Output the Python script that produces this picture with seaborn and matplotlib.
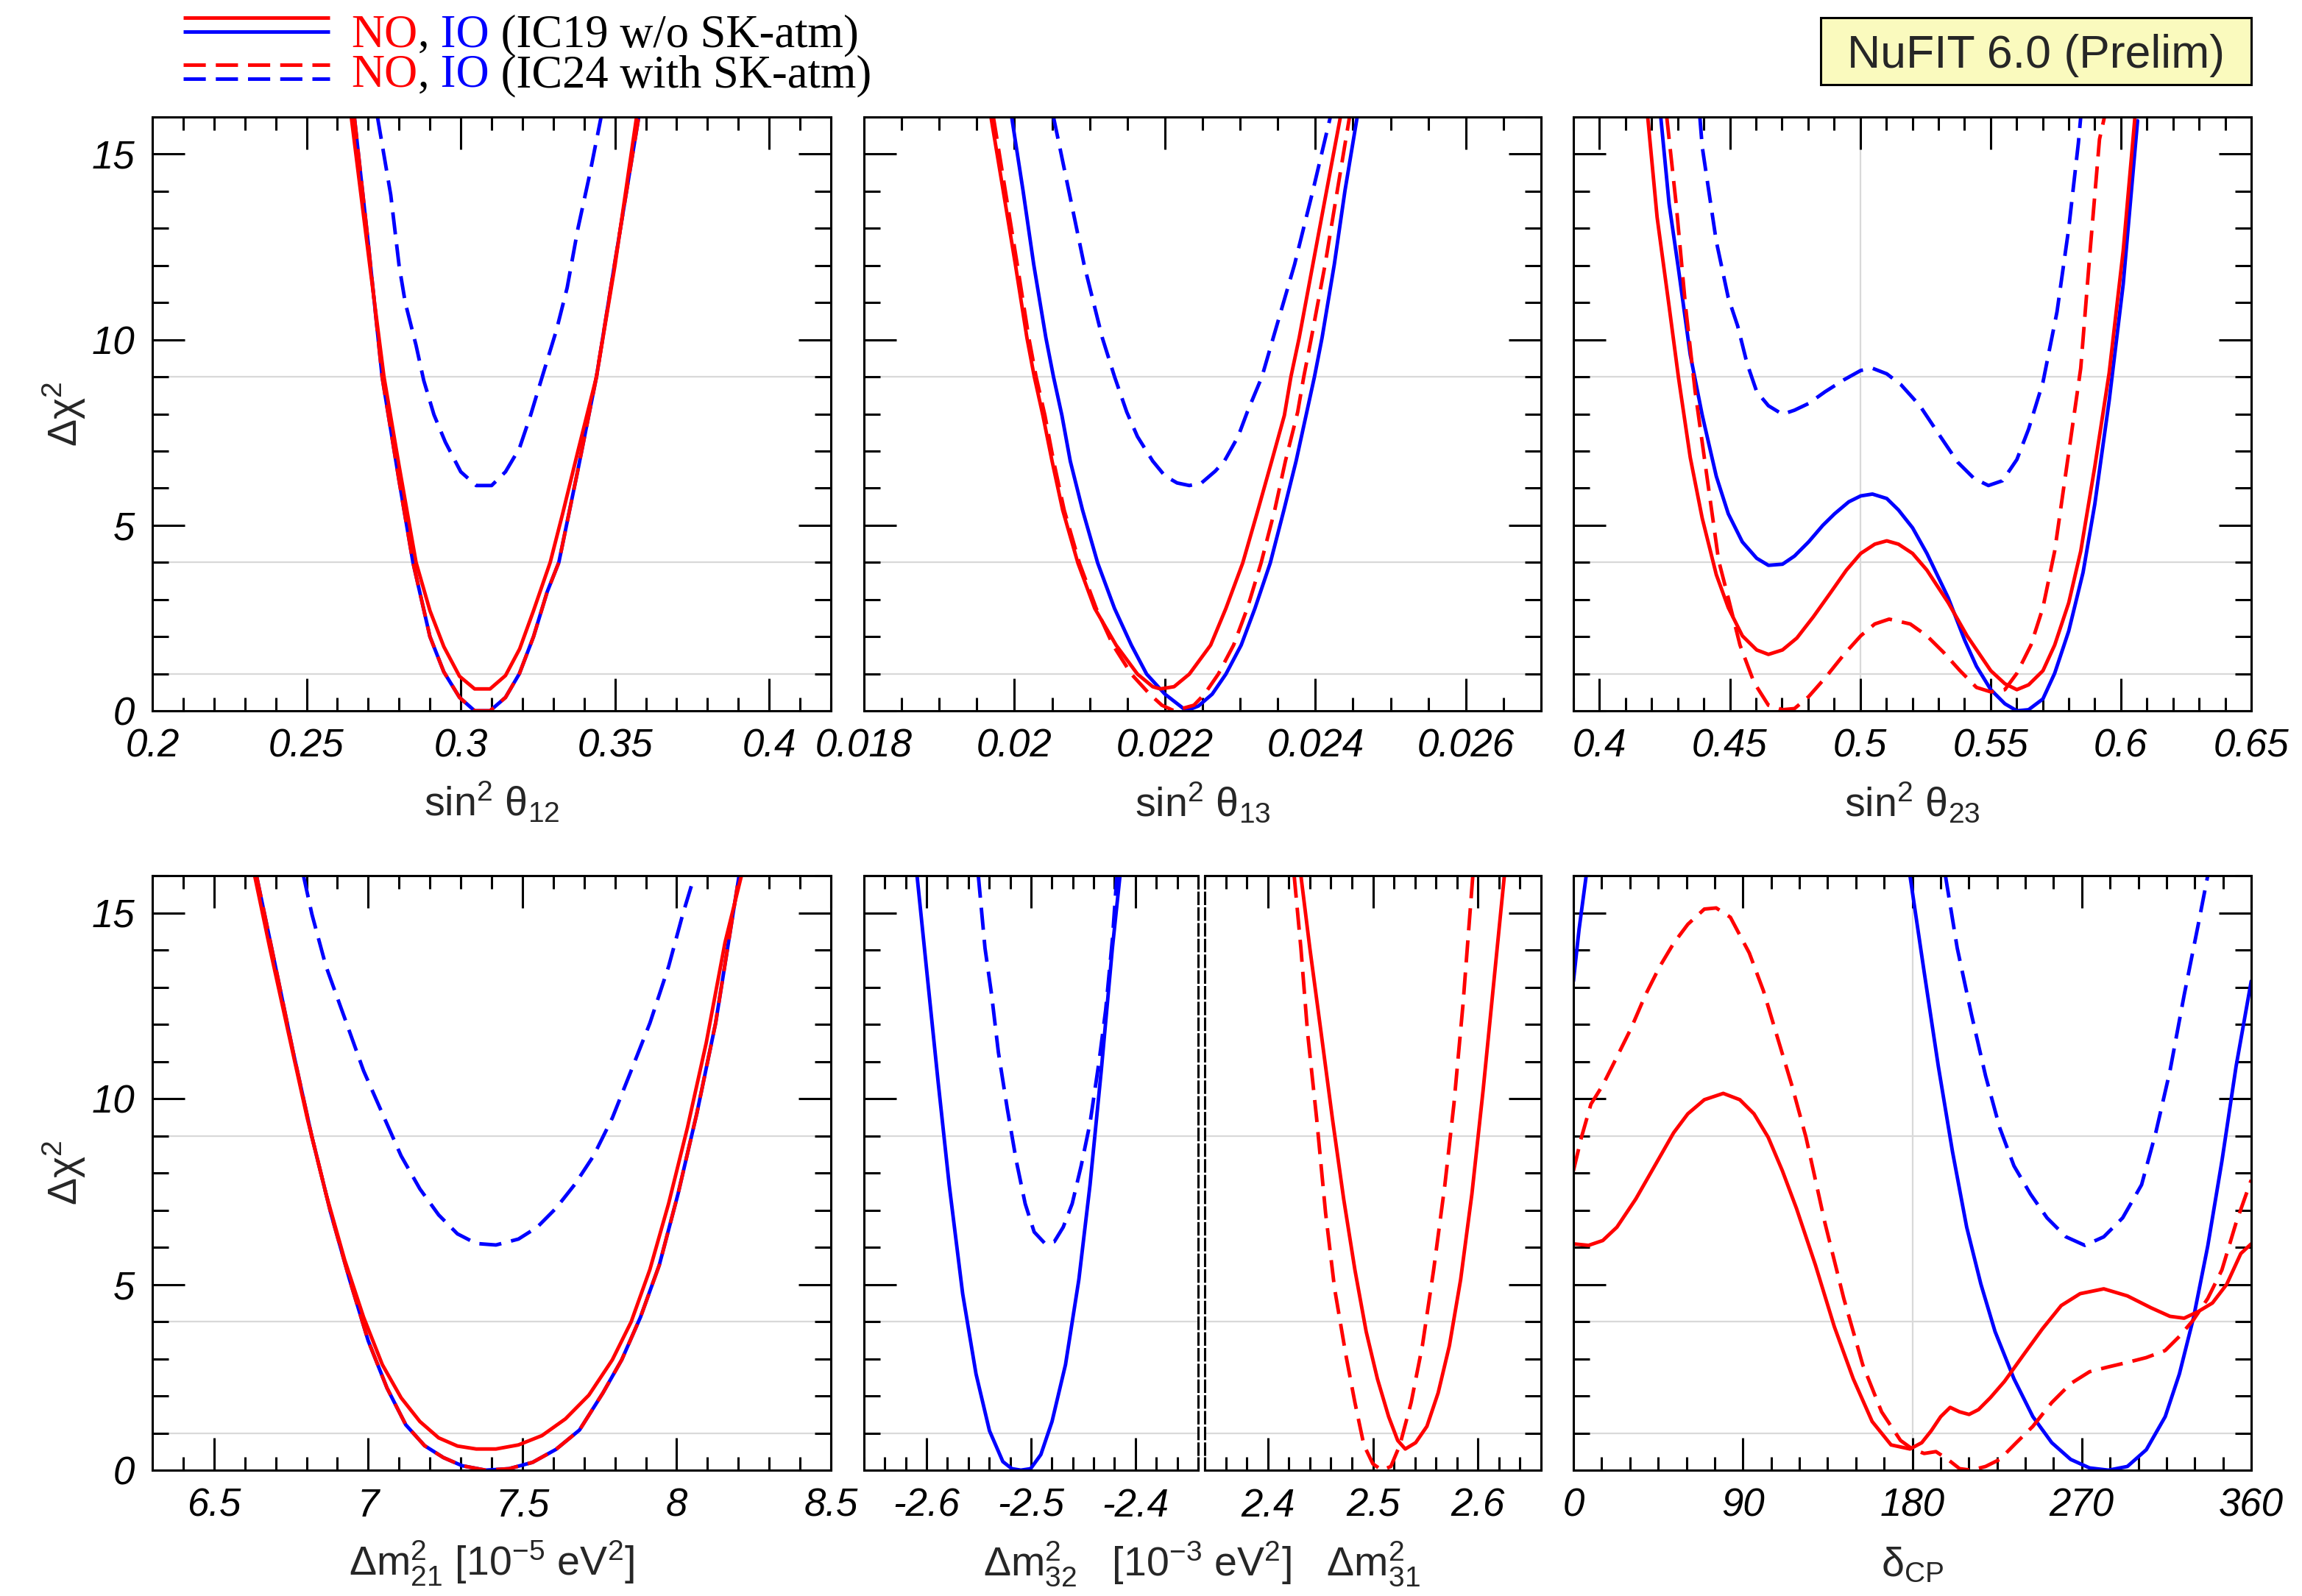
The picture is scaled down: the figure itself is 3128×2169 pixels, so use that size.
import matplotlib
matplotlib.use("Agg")
import matplotlib.pyplot as plt
from matplotlib.patches import Rectangle
from matplotlib.ticker import MultipleLocator
import pandas as pd
import seaborn as sns

# ---- Delta chi^2 profiles read off the NuFIT 6.0 (prelim) figure ----
# sin^2 theta_12
s12_no19_x = [0.2645, 0.2705, 0.2751, 0.2800, 0.2855, 0.2900, 0.2945, 0.2996, 0.3045, 0.3095,
              0.3145, 0.3191, 0.3236, 0.3290, 0.3330, 0.3380, 0.3440, 0.3500, 0.3570]
s12_no19_y = [16, 12, 9, 6.6, 4.0, 2.7, 1.73, 0.93, 0.59, 0.59, 0.95, 1.67, 2.7, 4.0, 5.3, 7.0, 9.0, 12.0, 16]
s12_io19_x = [0.2655, 0.2700, 0.2745, 0.2800, 0.2845, 0.2900, 0.2945, 0.2996, 0.3045, 0.3095,
              0.3145, 0.3190, 0.3236, 0.3280, 0.3318, 0.3380, 0.3440, 0.3500, 0.3577]
s12_io19_y = [16, 12.6, 9.0, 6.2, 4.0, 2.0, 1.05, 0.36, 0.0, 0.0, 0.36, 1.0, 2.0, 3.2, 4.0, 6.5, 9.0, 12.1, 16]
s12_no24_x = s12_io19_x
s12_no24_y = s12_io19_y
s12_io24_x = [0.2730, 0.2773, 0.2800, 0.2820, 0.2855, 0.2880, 0.2913, 0.2950, 0.3000, 0.3050,
              0.3100, 0.3145, 0.3190, 0.3227, 0.3264, 0.3310, 0.3345, 0.3380, 0.3418, 0.3455]
s12_io24_y = [16, 13.9, 12.0, 11.0, 9.85, 8.9, 7.98, 7.24, 6.44, 6.07, 6.07, 6.44, 7.07, 7.98, 9.0,
              10.25, 11.4, 13.0, 14.45, 16]

# sin^2 theta_13
s13_no19_x = [0.019688, 0.01985, 0.020012, 0.020166, 0.020264, 0.020378, 0.0205, 0.020641, 0.020844,
              0.021067, 0.021351, 0.021635, 0.021838, 0.021939, 0.022122, 0.022325, 0.022608, 0.022811,
              0.023034, 0.023237, 0.02342, 0.023588, 0.023675, 0.023785, 0.023967, 0.02415, 0.024333]
s13_no19_y = [16, 14.02, 12.03, 10.05, 9.0, 7.96, 6.73, 5.41, 3.98, 2.76, 1.77, 0.99, 0.65, 0.59, 0.65,
              0.99, 1.77, 2.76, 3.98, 5.41, 6.73, 7.96, 9.0, 10.05, 12.03, 14.02, 16]
s13_no24_x = [0.01972, 0.019878, 0.020037, 0.020191, 0.020288, 0.020405, 0.02052, 0.020661, 0.020864,
              0.021087, 0.02131, 0.021554, 0.021797, 0.02196, 0.022122, 0.022385, 0.022527, 0.02271,
              0.022913, 0.023095, 0.023278, 0.02346, 0.023602, 0.023765, 0.023846, 0.023947, 0.02413,
              0.024292, 0.024454]
s13_no24_y = [16, 14.02, 12.03, 10.05, 9.0, 7.96, 6.73, 5.41, 3.98, 2.76, 1.77, 0.99, 0.45, 0.15, 0.0,
              0.15, 0.45, 0.99, 1.77, 2.76, 3.98, 5.41, 6.73, 8.05, 9.0, 10.05, 12.03, 14.02, 16]
s13_io19_x = [0.019963, 0.020114, 0.020256, 0.020418, 0.020519, 0.020631, 0.020742, 0.020905, 0.021107,
              0.02133, 0.021554, 0.021757, 0.022, 0.022203, 0.022284, 0.022446, 0.022629, 0.022811,
              0.023014, 0.023197, 0.0234, 0.023582, 0.023744, 0.023886, 0.023988, 0.024089, 0.024252,
              0.024394, 0.024556]
s13_io19_y = [16, 14.02, 12.03, 10.05, 9.0, 7.96, 6.73, 5.41, 3.98, 2.76, 1.77, 0.99, 0.45, 0.13, 0.0,
              0.13, 0.45, 0.99, 1.77, 2.76, 3.98, 5.41, 6.73, 8.05, 9.0, 10.05, 12.03, 14.02, 16]
s13_io24_x = [0.020519, 0.020722, 0.020925, 0.021168, 0.021331, 0.021493, 0.021635, 0.021838, 0.022,
              0.022162, 0.022325, 0.022487, 0.02267, 0.022791, 0.022973, 0.023095, 0.02329, 0.02344,
              0.023724, 0.023968, 0.024199]
s13_io24_y = [16, 14.02, 12.03, 10.05, 9.0, 8.05, 7.39, 6.73, 6.33, 6.14, 6.07, 6.14, 6.46, 6.73, 7.39,
              8.05, 9.0, 10.05, 12.03, 14.02, 16]

# sin^2 theta_23
s23_no19_x = [0.4185, 0.4221, 0.4267, 0.4303, 0.4348, 0.4394, 0.4448, 0.4494, 0.4548, 0.4603, 0.4648, 0.4702,
              0.4757, 0.4820, 0.4884, 0.4947, 0.5002, 0.5056, 0.5102, 0.5147, 0.5201, 0.5256, 0.5338, 0.5410,
              0.5501, 0.5555, 0.5601, 0.5646, 0.5701, 0.5746, 0.5800, 0.5846, 0.5900, 0.5955, 0.6009, 0.6054]
s23_no19_y = [16, 13.3, 10.9, 8.98, 6.83, 5.19, 3.67, 2.78, 2.02, 1.64, 1.52, 1.64, 1.96, 2.53, 3.16, 3.79,
              4.24, 4.49, 4.58, 4.49, 4.24, 3.79, 2.91, 2.02, 1.08, 0.73, 0.57, 0.70, 1.08, 1.77, 2.91, 4.30,
              6.58, 9.10, 12.4, 16]
s23_io19_x = [0.4235, 0.4267, 0.4303, 0.4348, 0.4394, 0.4448, 0.4494, 0.4548, 0.4603, 0.4648, 0.4702, 0.4748,
              0.4802, 0.4857, 0.4902, 0.4956, 0.5002, 0.5047, 0.5102, 0.5147, 0.5201, 0.5256, 0.5338, 0.5401,
              0.5446, 0.5501, 0.5555, 0.5601, 0.5646, 0.5701, 0.5746, 0.5800, 0.5855, 0.5900, 0.5955, 0.6009,
              0.6064]
s23_io19_y = [16, 13.66, 11.9, 9.6, 7.97, 6.32, 5.31, 4.55, 4.11, 3.92, 3.95, 4.17, 4.55, 5.0, 5.31, 5.63,
              5.79, 5.84, 5.72, 5.41, 4.93, 4.24, 3.04, 1.90, 1.20, 0.57, 0.19, 0.0, 0.03, 0.32, 1.01, 2.15,
              3.73, 5.57, 8.35, 11.5, 15.9]
s23_no24_x = [0.4258, 0.4294, 0.4330, 0.4367, 0.4412, 0.4457, 0.4494, 0.4539, 0.4593, 0.4648, 0.4702, 0.4748,
              0.4802, 0.4866, 0.4938, 0.5002, 0.5056, 0.5111, 0.5192, 0.5256, 0.5319, 0.5383, 0.5446, 0.5501,
              0.5555, 0.5601, 0.5655, 0.5701, 0.5746, 0.5800, 0.5846, 0.5882, 0.5918, 0.5937]
s23_no24_y = [16, 13.66, 10.9, 8.6, 6.32, 4.05, 3.04, 1.77, 0.76, 0.15, 0.03, 0.06, 0.38, 0.89, 1.52, 2.02,
              2.34, 2.47, 2.34, 2.02, 1.58, 1.08, 0.63, 0.51, 0.57, 1.01, 1.77, 2.78, 4.30, 6.96, 9.23, 12.4,
              15.4, 16]
s23_io24_x = [0.4385, 0.4394, 0.4448, 0.4494, 0.4530, 0.4566, 0.4603, 0.4648, 0.4702, 0.4748, 0.4802, 0.4866,
              0.4938, 0.5002, 0.5047, 0.5102, 0.5156, 0.5229, 0.5301, 0.5374, 0.5437, 0.5492, 0.5546, 0.5601,
              0.5646, 0.5701, 0.5755, 0.5800, 0.5837, 0.5846]
s23_io24_y = [16, 15.2, 12.65, 11.13, 10.37, 9.36, 8.6, 8.22, 7.99, 8.1, 8.28, 8.6, 8.92, 9.17, 9.23, 9.08,
              8.79, 8.22, 7.46, 6.70, 6.26, 6.07, 6.2, 6.77, 7.59, 8.85, 10.75, 13.0, 15.3, 16]

# Delta m^2_21 [1e-5 eV^2]
dm21_no19_x = [6.6317, 6.6804, 6.7412, 6.8021, 6.8630, 6.9239, 6.9848, 7.0457, 7.1065, 7.1674, 7.2283, 7.2892,
               7.3501, 7.4140, 7.4871, 7.5632, 7.6393, 7.7154, 7.7915, 7.8524, 7.9132, 7.9741, 8.0350, 8.0959,
               8.1568, 8.2100]
dm21_no19_y = [16, 14.07, 11.77, 9.48, 7.44, 5.65, 4.12, 2.84, 1.95, 1.31, 0.87, 0.65, 0.57, 0.57, 0.68, 0.93,
               1.38, 2.02, 2.97, 3.99, 5.40, 7.18, 9.22, 11.5, 14.2, 16]
dm21_io19_x = [6.6377, 6.6956, 6.7565, 6.8174, 6.8782, 6.9391, 7.0000, 7.0609, 7.1218, 7.1826, 7.2435, 7.3044,
               7.3805, 7.4566, 7.5327, 7.6088, 7.6849, 7.7610, 7.8219, 7.8828, 7.9437, 8.0046, 8.0654, 8.1263,
               8.1948, 8.2024]
dm21_io19_y = [16, 13.7, 11.26, 8.97, 6.93, 5.14, 3.48, 2.21, 1.22, 0.66, 0.34, 0.12, 0.0, 0.04, 0.21, 0.56,
               1.08, 2.08, 2.97, 4.12, 5.52, 7.44, 9.6, 12.03, 15.6, 16]
dm21_no24_x = dm21_io19_x
dm21_no24_y = dm21_io19_y
dm21_io24_x = [6.7900, 6.8174, 6.8630, 6.9239, 6.9848, 7.0457, 7.1065, 7.1674, 7.2283, 7.2892, 7.3501, 7.4140,
               7.4871, 7.5480, 7.6088, 7.6697, 7.7306, 7.7915, 7.8524, 7.9132, 7.9741, 8.0198, 8.0578]
dm21_io24_y = [16, 14.96, 13.56, 12.16, 10.75, 9.6, 8.46, 7.57, 6.87, 6.36, 6.10, 6.06, 6.22, 6.54, 7.05,
               7.69, 8.46, 9.48, 10.75, 12.03, 13.56, 14.96, 16]

# Delta m^2_32 (IO) and Delta m^2_31 (NO) [1e-3 eV^2]
dm32_io19_x = [-2.6092, -2.5998, -2.5891, -2.5784, -2.5655, -2.5527, -2.5398, -2.5270, -2.5184, -2.5098,
               -2.5004, -2.4906, -2.4799, -2.4670, -2.4542, -2.4435, -2.4328, -2.4221, -2.4148]
dm32_io19_y = [16, 13.41, 10.48, 7.68, 4.75, 2.59, 1.06, 0.23, 0.04, 0.0, 0.04, 0.42, 1.31, 2.84, 5.13, 7.68,
               10.74, 14.05, 16]
dm32_io24_x = [-2.5505, -2.5441, -2.5377, -2.5313, -2.5227, -2.5141, -2.5056, -2.4970, -2.4863, -2.4777,
               -2.4692, -2.4606, -2.4520, -2.4435, -2.4349, -2.4285, -2.4220, -2.4178]
dm32_io24_y = [16, 14.05, 12.78, 11.25, 9.72, 8.32, 7.17, 6.41, 6.09, 6.15, 6.54, 7.17, 8.19, 9.34, 10.99,
               12.39, 14.31, 16]
dm31_no19_x = [2.4315, 2.4400, 2.4508, 2.4615, 2.4722, 2.4829, 2.4936, 2.5043, 2.5150, 2.5236, 2.5308, 2.5407,
               2.5514, 2.5621, 2.5728, 2.5835, 2.5942, 2.6049, 2.6156, 2.6251]
dm31_no19_y = [16, 14.05, 11.76, 9.46, 7.3, 5.39, 3.73, 2.46, 1.44, 0.80, 0.57, 0.74, 1.18, 2.08, 3.35, 5.13,
               7.43, 10.23, 13.29, 16]
dm31_no24_x = [2.4251, 2.4315, 2.4379, 2.4465, 2.4550, 2.4636, 2.4743, 2.4829, 2.4914, 2.5000, 2.5086, 2.5171,
               2.5257, 2.5364, 2.5471, 2.5578, 2.5685, 2.5771, 2.5857, 2.5951]
dm31_no24_y = [16, 14.05, 11.76, 9.46, 6.92, 4.88, 3.1, 1.82, 0.68, 0.17, 0.0, 0.1, 0.68, 1.82, 3.35, 5.39,
               7.68, 9.85, 12.52, 16]

# delta_CP [deg]
dcp_no19_x = [0, 8.03, 15.57, 23.1, 33.14, 43.18, 53.22, 60.75, 69.54, 79.58, 88.37, 95.9, 103.43, 110.96,
              118.5, 128.54, 138.58, 148.62, 158.66, 168.7, 178.75, 185.02, 190.04, 195.07, 200.09, 205.11,
              210.13, 215.15, 221.43, 228.96, 239.0, 249.04, 259.08, 269.13, 281.68, 294.23, 306.78, 316.83,
              324.36, 331.89, 339.42, 346.95, 354.48, 360]
dcp_no19_y = [6.09, 6.05, 6.18, 6.54, 7.3, 8.19, 9.08, 9.59, 9.97, 10.14, 9.97, 9.59, 8.96, 8.06, 7.04, 5.52,
              3.86, 2.46, 1.31, 0.68, 0.57, 0.74, 1.06, 1.44, 1.69, 1.57, 1.50, 1.63, 1.95, 2.39, 3.1, 3.8, 4.43,
              4.75, 4.88, 4.69, 4.37, 4.14, 4.09, 4.27, 4.5, 5.0, 5.83, 6.09]
dcp_no24_x = [0, 4.27, 9.29, 15.57, 23.1, 30.63, 38.16, 45.69, 53.22, 60.75, 69.54, 75.82, 83.35, 93.39,
              100.92, 108.45, 115.99, 123.52, 133.56, 143.6, 153.64, 163.68, 173.73, 180.0, 186.28, 192.55,
              198.83, 205.11, 211.38, 218.92, 226.45, 235.23, 244.02, 254.06, 264.1, 274.15, 284.19, 294.23,
              304.27, 314.31, 321.85, 329.38, 336.91, 344.44, 351.97, 360]
dcp_no24_y = [8.06, 8.96, 9.85, 10.36, 11.12, 11.89, 12.78, 13.54, 14.18, 14.69, 15.1, 15.13, 14.88, 13.92,
              12.9, 11.63, 10.36, 8.96, 6.66, 4.62, 2.84, 1.57, 0.8, 0.57, 0.45, 0.5, 0.29, 0.04, 0.0, 0.1,
              0.29, 0.74, 1.18, 1.82, 2.33, 2.65, 2.78, 2.9, 3.03, 3.22, 3.6, 4.05, 4.62, 5.39, 6.66, 7.81]
dcp_io19a_x = [0, 3.01, 6.78]
dcp_io19a_y = [13.16, 14.56, 16]
dcp_io19b_x = [178.75, 186.28, 193.81, 201.34, 208.87, 216.4, 223.94, 233.98, 244.02, 254.06, 264.1, 274.15,
               284.19, 294.23, 304.27, 314.31, 321.85, 329.38, 336.91, 344.44, 351.97, 360]
dcp_io19b_y = [16, 13.41, 10.87, 8.57, 6.54, 5.01, 3.73, 2.46, 1.44, 0.74, 0.29, 0.06, 0.0, 0.1, 0.55, 1.44,
               2.59, 4.11, 6.03, 8.32, 10.87, 13.16]
dcp_io24_x = [197.58, 203.85, 211.38, 218.92, 226.45, 233.98, 242.77, 251.55, 261.59, 271.64, 281.68, 291.72,
              301.76, 309.29, 316.83, 324.36, 331.89, 336.91]
dcp_io24_y = [16, 14.05, 12.27, 10.61, 9.21, 8.19, 7.43, 6.79, 6.28, 6.05, 6.28, 6.79, 7.68, 9.08, 10.74,
              12.78, 14.69, 16]

# tick labels and reference levels
S12_TICKS = [0.2, 0.25, 0.3, 0.35, 0.4]
S13_TICKS = [0.018, 0.02, 0.022, 0.024, 0.026]
S23_TICKS = [0.4, 0.45, 0.5, 0.55, 0.6, 0.65]
DM21_TICKS = [6.5, 7, 7.5, 8, 8.5]
DM32_TICKS = [-2.6, -2.5, -2.4]
DM31_TICKS = [2.4, 2.5, 2.6]
DCP_TICKS = [0, 90, 180, 270, 360]
Y_TICKS = [0, 5, 10, 15]
SIGMA_LEVELS = [1, 4, 9]

RED, BLUE, GREY = "#ff0000", "#0000ff", "#d9d9d9"
PALETTE = {"NO": RED, "IO": BLUE}
DASHES = {"IC19": "", "IC24": (6.2, 2.8)}
LW = 3.5

sns.set_theme(style="ticks")
plt.rcParams.update({
    "font.family": ["Liberation Sans", "DejaVu Sans"],
    "mathtext.fontset": "custom",
    "mathtext.rm": "Liberation Sans",
    "mathtext.it": "Liberation Sans:italic",
    "mathtext.bf": "Liberation Sans:bold",
    "mathtext.sf": "Liberation Sans",
    "mathtext.default": "regular",
    "axes.edgecolor": "black",
    "xtick.color": "black",
    "ytick.color": "black",
})

W, H = 3128, 2169
fig = plt.figure(figsize=(W / 100, H / 100), dpi=100)


def px_rect(x0, y0, x1, y1):
    return [x0 / W, 1 - y1 / H, (x1 - x0) / W, (y1 - y0) / H]


def draw_curves(ax, curves):
    frames = [pd.DataFrame({"x": xs, "chi2": ys, "order": o, "run": r, "seg": name})
              for name, (xs, ys, o, r) in curves.items()]
    df = pd.concat(frames, ignore_index=True)
    sns.lineplot(data=df, x="x", y="chi2", hue="order", style="run", units="seg",
                 estimator=None, sort=False, hue_order=["IO", "NO"], style_order=["IC19", "IC24"],
                 palette=PALETTE, dashes=DASHES, linewidth=LW, legend=False, ax=ax)


def style_axes(ax, xlim, ticks, minor, ylabels=False, left=True, right=True):
    ax.set_xlim(*xlim)
    ax.set_ylim(0, 16)
    ax.set_xticks(ticks, [f"{t:g}" for t in ticks], fontstyle="italic")
    ax.xaxis.set_minor_locator(MultipleLocator(minor))
    ax.set_yticks(Y_TICKS, [f"{t:g}" for t in Y_TICKS], fontstyle="italic")
    ax.yaxis.set_minor_locator(MultipleLocator(1))
    ax.tick_params(which="both", direction="in", top=True, bottom=True, left=left, right=right,
                   width=2.2, pad=17, labelsize=38, labelleft=ylabels)
    ax.tick_params(which="major", length=32)
    ax.tick_params(axis="x", which="minor", length=13)
    ax.tick_params(axis="y", which="minor", length=16)
    for lev in SIGMA_LEVELS:
        ax.axhline(lev, color=GREY, lw=1.6, zorder=0)
    for s in ax.spines.values():
        s.set_linewidth(2.2)
    ax.set_ylabel("")
    if ylabels:
        ax.set_ylabel("Δχ$^2$", fontsize=40)
        ax.yaxis.set_label_coords(-0.095, 0.5)


def set_xlabel(ax, text, xpos=0.5):
    ax.set_xlabel(text, fontsize=40)
    ax.xaxis.set_label_coords(xpos, -0.178)
    ax.xaxis.label.set_va("baseline")


COLS = [(207, 1129), (1174, 2094), (2138, 3059)]
ROWS = [(159, 966), (1190, 1998)]

# top row
ax = fig.add_axes(px_rect(COLS[0][0], ROWS[0][0], COLS[0][1], ROWS[0][1]))
draw_curves(ax, {"a": (s12_io19_x, s12_io19_y, "IO", "IC19"), "b": (s12_io24_x, s12_io24_y, "IO", "IC24"),
                 "c": (s12_no19_x, s12_no19_y, "NO", "IC19"), "d": (s12_no24_x, s12_no24_y, "NO", "IC24")})
style_axes(ax, (0.2, 0.42), S12_TICKS, 0.01, ylabels=True)
set_xlabel(ax, "sin$^2$ θ$_{12}$")

ax = fig.add_axes(px_rect(COLS[1][0], ROWS[0][0], COLS[1][1], ROWS[0][1]))
draw_curves(ax, {"a": (s13_io19_x, s13_io19_y, "IO", "IC19"), "b": (s13_io24_x, s13_io24_y, "IO", "IC24"),
                 "c": (s13_no19_x, s13_no19_y, "NO", "IC19"), "d": (s13_no24_x, s13_no24_y, "NO", "IC24")})
style_axes(ax, (0.018, 0.027), S13_TICKS, 0.0005)
set_xlabel(ax, "sin$^2$ θ$_{13}$")

ax = fig.add_axes(px_rect(COLS[2][0], ROWS[0][0], COLS[2][1], ROWS[0][1]))
draw_curves(ax, {"a": (s23_io19_x, s23_io19_y, "IO", "IC19"), "b": (s23_io24_x, s23_io24_y, "IO", "IC24"),
                 "c": (s23_no19_x, s23_no19_y, "NO", "IC19"), "d": (s23_no24_x, s23_no24_y, "NO", "IC24")})
style_axes(ax, (0.39, 0.65), S23_TICKS, 0.01)
ax.axvline(0.5, color=GREY, lw=1.6, zorder=0)
set_xlabel(ax, "sin$^2$ θ$_{23}$")

# bottom row
ax = fig.add_axes(px_rect(COLS[0][0], ROWS[1][0], COLS[0][1], ROWS[1][1]))
draw_curves(ax, {"a": (dm21_io19_x, dm21_io19_y, "IO", "IC19"), "b": (dm21_io24_x, dm21_io24_y, "IO", "IC24"),
                 "c": (dm21_no19_x, dm21_no19_y, "NO", "IC19"), "d": (dm21_no24_x, dm21_no24_y, "NO", "IC24")})
style_axes(ax, (6.3, 8.5), DM21_TICKS, 0.1, ylabels=True)
set_xlabel(ax, "Δm$^2_{21}$ [10$^{-5}$ eV$^2$]")

SPLIT = (1628, 1637)
ax = fig.add_axes(px_rect(COLS[1][0], ROWS[1][0], SPLIT[0], ROWS[1][1]))
draw_curves(ax, {"a": (dm32_io19_x, dm32_io19_y, "IO", "IC19"), "b": (dm32_io24_x, dm32_io24_y, "IO", "IC24")})
style_axes(ax, (-2.66, -2.34), DM32_TICKS, 0.02, right=False)
ax.spines["right"].set_linestyle((0, (5, 2)))
set_xlabel(ax, "Δm$^2_{32}$   [10$^{-3}$ eV$^2$]   Δm$^2_{31}$",
           xpos=((SPLIT[0] + SPLIT[1]) / 2 - COLS[1][0]) / (SPLIT[0] - COLS[1][0]))

ax = fig.add_axes(px_rect(SPLIT[1], ROWS[1][0], COLS[1][1], ROWS[1][1]))
draw_curves(ax, {"c": (dm31_no19_x, dm31_no19_y, "NO", "IC19"), "d": (dm31_no24_x, dm31_no24_y, "NO", "IC24")})
style_axes(ax, (2.34, 2.66), DM31_TICKS, 0.02, left=False)
ax.spines["left"].set_linestyle((0, (5, 2)))
ax.set_xlabel("")

ax = fig.add_axes(px_rect(COLS[2][0], ROWS[1][0], COLS[2][1], ROWS[1][1]))
draw_curves(ax, {"a1": (dcp_io19a_x, dcp_io19a_y, "IO", "IC19"), "a2": (dcp_io19b_x, dcp_io19b_y, "IO", "IC19"),
                 "b": (dcp_io24_x, dcp_io24_y, "IO", "IC24"),
                 "c": (dcp_no19_x, dcp_no19_y, "NO", "IC19"), "d": (dcp_no24_x, dcp_no24_y, "NO", "IC24")})
style_axes(ax, (0, 360), DCP_TICKS, 15)
ax.axvline(180, color=GREY, lw=1.6, zorder=0)
set_xlabel(ax, "δ$_{CP}$")

# legend and badge, drawn in figure pixel space
ov = fig.add_axes([0, 0, 1, 1])
ov.set_xlim(0, W)
ov.set_ylim(H, 0)
ov.axis("off")

legend_rows = [("IC19 w/o SK-atm", "-", 24, 43, 63),
               ("IC24 with SK-atm", (0, (6.2, 2.8)), 88, 107, 118)]
for run, ls, y_red, y_blue, base in legend_rows:
    ov.plot([249, 448], [y_blue, y_blue], color=BLUE, lw=LW, ls=ls, solid_capstyle="butt")
    ov.plot([249, 448], [y_red, y_red], color=RED, lw=LW, ls=ls, solid_capstyle="butt")
    t = ov.text(477, base, "NO", color=RED, fontsize=45, family="Liberation Serif", va="baseline")
    for piece, col in ((",", "black"), (" IO", BLUE), (f" ({run})", "black")):
        t = ov.annotate(piece, xy=(1, 0), xycoords=t, va="bottom", color=col,
                        fontsize=45, family="Liberation Serif")

ov.add_patch(Rectangle((2474, 24), 585, 91, facecolor="#fafabe", edgecolor="black", lw=2.2))
ov.text(2766, 92, "NuFIT 6.0 (Prelim)", fontsize=45, ha="center", va="baseline")

fig.savefig("out.png", dpi=100)
